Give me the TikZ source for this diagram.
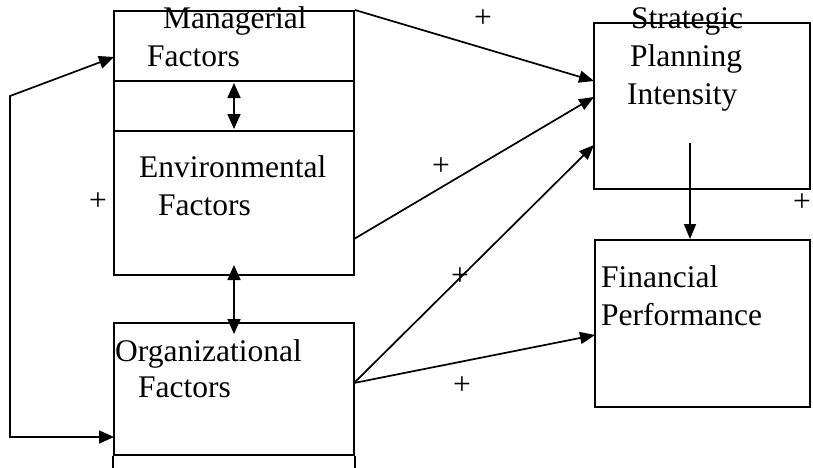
\documentclass[tikz,border=0pt]{standalone}
\usepackage{fontspec}
\setmainfont{Liberation Serif}
\usetikzlibrary{arrows.meta}
\begin{document}
\begin{tikzpicture}[x=1pt,y=-1pt,
  box/.style={draw,line width=2pt,inner sep=0pt},
  lbl/.style={anchor=base west,inner sep=0pt,font=\fontsize{31.5}{37.8}\selectfont},
  plus/.style={anchor=center,inner sep=0pt,font=\fontsize{31.5}{37.8}\selectfont},
  conn/.style={line width=1.7pt,-{Triangle[length=15pt,width=12pt]}},
  dconn/.style={line width=1.7pt,{Triangle[length=15pt,width=13pt]}-{Triangle[length=15pt,width=13pt]}}]
\clip (0,0) rectangle (813,467);
\useasboundingbox (0,0) rectangle (813,467);
% boxes
\node[box,minimum width=240pt,minimum height=70pt] (mgr) at (234,46) {};
\node[box,minimum width=240pt,minimum height=50pt] (gap) at (234,106) {};
\node[box,minimum width=240pt,minimum height=144pt] (env) at (234,203) {};
\node[box,minimum width=240pt,minimum height=132pt] (org) at (234,389) {};
\draw[line width=2pt] (org.south west) -- ++(0,20);
\draw[line width=2pt] (org.south east) -- ++(0,20);
\node[box,minimum width=216pt,minimum height=166pt] (spi) at (702,106) {};
\node[box,minimum width=215pt,minimum height=167pt] (fin) at (702.5,323.5) {};
% texts
\node[lbl] (t1) at (163,28) {Managerial};
\node[lbl] (t2) at (147,66) {Factors};
\node[lbl] (t3) at (139,177) {Environmental};
\node[lbl] (t4) at (158,215) {Factors};
\node[lbl] (t5) at (115,361) {Organizational};
\node[lbl] (t6) at (138,397) {Factors};
\node[lbl] (t7) at (631,28) {Strategic};
\node[lbl] (t8) at (630,66) {Planning};
\node[lbl] (t9) at (627,104) {Intensity};
\node[lbl] (t10) at (601,287) {Financial};
\node[lbl] (t11) at (601,325) {Performance};
% plus signs
\node[plus] (p1) at (483,19) {+};
\node[plus] (p2) at (441,167) {+};
\node[plus] (p3) at (460,277) {+};
\node[plus] (p4) at (462,386) {+};
\node[plus] (p5) at (98,202) {+};
\node[plus] (p6) at (802,203) {+};
% coordinates
\coordinate (sA) at (594,81);
\coordinate (sB) at (594,97);
\coordinate (sC) at (594,145);
\coordinate (sD) at (690,143);
\coordinate (eOut) at (354,239);
\coordinate (oOut) at (354,383);
\coordinate (fIn) at (595,335);
\coordinate (mIn) at (114,57);
\coordinate (oIn) at (114,437);
\coordinate (lTop) at (10,96);
\coordinate (lBot) at (10,437);
\coordinate (dm1) at (234,83);
\coordinate (dm2) at (234,129);
\coordinate (de1) at (234,265);
\coordinate (de2) at (234,334);
% connectors
\draw[conn] (mgr.north east) -- (sA);
\draw[conn] (eOut) -- (sB);
\draw[conn] (oOut) -- (sC);
\draw[conn] (oOut) -- (fIn);
\draw[conn] (sD) -- (fin.north -| sD);
\draw[dconn] (mIn) -- (lTop) -- (lBot) -- (oIn);
\draw[dconn] (dm1) -- (dm2);
\draw[dconn] (de1) -- (de2);
\end{tikzpicture}
\end{document}
